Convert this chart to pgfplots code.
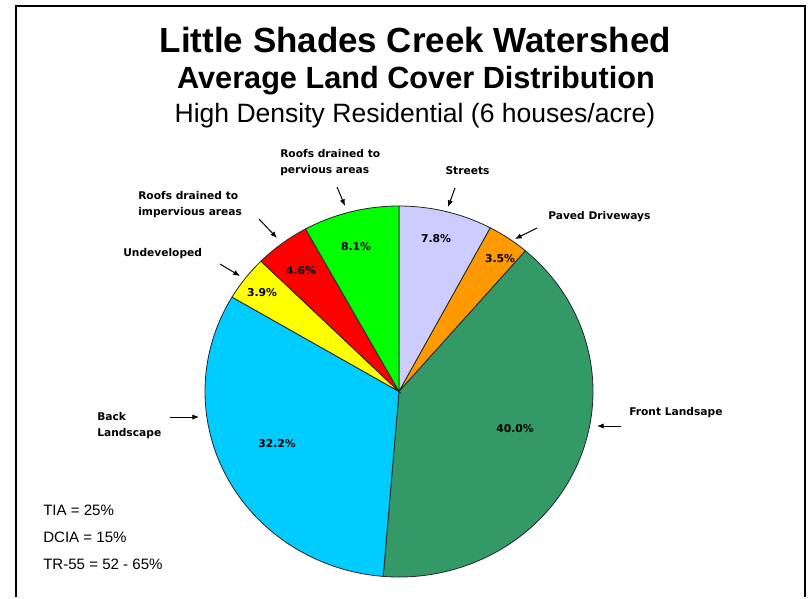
\documentclass[border=0pt]{standalone}
\usepackage{fontspec}
\setmainfont{Liberation Sans}
\newfontfamily\labfont{DejaVu Sans}
\usepackage{pgfplots}
\pgfplotsset{compat=1.18}
\usetikzlibrary{arrows.meta}
\definecolor{cStreets}{HTML}{CCCCFF}
\definecolor{cPaved}{HTML}{FF9900}
\definecolor{cFront}{HTML}{339966}
\definecolor{cBack}{HTML}{00CCFF}
\definecolor{cUndev}{HTML}{FFFF00}
\definecolor{cRoofImp}{HTML}{FF0000}
\definecolor{cRoofPerv}{HTML}{00FF00}
% pie geometry (pixel units)
\def\cx{399}\def\cy{391.5}\def\rx{194}\def\ry{185.5}
\tikzset{slice/.style={draw=black!85, line width=0.6pt, samples=40, variable=\t},
  lab/.style={font=\labfont\bfseries\fontsize{8pt}{9pt}\selectfont, inner sep=0pt},
  pct/.style={font=\labfont\bfseries\fontsize{8.1pt}{9pt}\selectfont, inner sep=0pt},
  arr/.style={-{Latex[length=5pt,width=4pt]}, line width=0.75pt, black}}
\begin{document}
\begin{tikzpicture}
\begin{axis}[
  scale only axis, width=606.75pt, height=447.75pt,
  xmin=0, xmax=809, ymin=0, ymax=597, y dir=reverse,
  hide axis, clip=false]
% background
\addplot[draw=none, fill=white] coordinates {(0,0) (809,0) (809,597) (0,597)} -- cycle;
% frame
\addplot[black, line width=2pt] coordinates {(16,597) (16,6) (805,6) (805,597)};
% slices: cumulative percentages, clockwise from top
% Streets 7.8, Paved Driveways 3.5, Front Landsape 40.0, Back Landscape 32.2,
% Undeveloped 3.9, Roofs impervious 4.6, Roofs pervious 8.1
\addplot[slice, fill=cStreets, domain=0:7.8] ({\cx+\rx*cos(90-3.6*\t)}, {\cy-\ry*sin(90-3.6*\t)}) -- (axis cs:\cx,\cy) -- cycle;
\addplot[slice, fill=cPaved, domain=7.8:11.3] ({\cx+\rx*cos(90-3.6*\t)}, {\cy-\ry*sin(90-3.6*\t)}) -- (axis cs:\cx,\cy) -- cycle;
\addplot[slice, fill=cFront, domain=11.3:51.3, samples=120] ({\cx+\rx*cos(90-3.6*\t)}, {\cy-\ry*sin(90-3.6*\t)}) -- (axis cs:\cx,\cy) -- cycle;
\addplot[slice, fill=cBack, domain=51.3:83.5, samples=100] ({\cx+\rx*cos(90-3.6*\t)}, {\cy-\ry*sin(90-3.6*\t)}) -- (axis cs:\cx,\cy) -- cycle;
\addplot[slice, fill=cUndev, domain=83.5:87.4] ({\cx+\rx*cos(90-3.6*\t)}, {\cy-\ry*sin(90-3.6*\t)}) -- (axis cs:\cx,\cy) -- cycle;
\addplot[slice, fill=cRoofImp, domain=87.4:92.0] ({\cx+\rx*cos(90-3.6*\t)}, {\cy-\ry*sin(90-3.6*\t)}) -- (axis cs:\cx,\cy) -- cycle;
\addplot[slice, fill=cRoofPerv, domain=92.0:100] ({\cx+\rx*cos(90-3.6*\t)}, {\cy-\ry*sin(90-3.6*\t)}) -- (axis cs:\cx,\cy) -- cycle;
% arrows
\addplot[arr] coordinates {(337,187) (345,206)};
\addplot[arr] coordinates {(259,219) (277,238)};
\addplot[arr] coordinates {(220,264) (240,276)};
\addplot[arr] coordinates {(455,188) (448,207)};
\addplot[arr] coordinates {(537,228) (515,239)};
\addplot[arr] coordinates {(621,426) (597,426)};
\addplot[arr] coordinates {(170,417) (199,417)};
% titles
\node[anchor=base, inner sep=0pt, font=\bfseries\fontsize{26.2pt}{30pt}\selectfont] at (axis cs:415.5,53) {Little Shades Creek Watershed};
\node[anchor=base, inner sep=0pt, font=\bfseries\fontsize{23pt}{27pt}\selectfont] at (axis cs:416,89) {Average Land Cover Distribution};
\node[anchor=base, inner sep=0pt, font=\fontsize{19.9pt}{24pt}\selectfont] at (axis cs:415,122) {High Density Residential (6 houses/acre)};
% slice labels
\node[lab, anchor=base west] at (axis cs:280,157.8) {Roofs drained to};
\node[lab, anchor=base west] at (axis cs:280,173.8) {pervious areas};
\node[lab, anchor=base west] at (axis cs:138,199.8) {Roofs drained to};
\node[lab, anchor=base west] at (axis cs:138,215.8) {impervious areas};
\node[lab, anchor=base west] at (axis cs:123,256.8) {Undeveloped};
\node[lab, anchor=base] at (axis cs:467.5,174.8) {Streets};
\node[lab, anchor=base west] at (axis cs:548,219.8) {Paved Driveways};
\node[lab, anchor=base west] at (axis cs:629,415.8) {Front Landsape};
\node[lab, anchor=base west] at (axis cs:97,420.8) {Back};
\node[lab, anchor=base west] at (axis cs:97,436.8) {Landscape};
% percentages
\node[pct] at (axis cs:436,239) {7.8\%};
\node[pct] at (axis cs:500,259) {3.5\%};
\node[pct] at (axis cs:515,429) {40.0\%};
\node[pct] at (axis cs:277,444) {32.2\%};
\node[pct] at (axis cs:262,293) {3.9\%};
\node[pct] at (axis cs:301,271) {4.6\%};
\node[pct] at (axis cs:356,247) {8.1\%};
% notes
\node[anchor=base west, inner sep=0pt, font=\fontsize{11.3pt}{13pt}\selectfont] at (axis cs:43,515.4) {TIA = 25\%};
\node[anchor=base west, inner sep=0pt, font=\fontsize{11.3pt}{13pt}\selectfont] at (axis cs:43,542.4) {DCIA = 15\%};
\node[anchor=base west, inner sep=0pt, font=\fontsize{11.3pt}{13pt}\selectfont] at (axis cs:43,569.4) {TR-55 = 52 - 65\%};
\end{axis}
\end{tikzpicture}
\end{document}
